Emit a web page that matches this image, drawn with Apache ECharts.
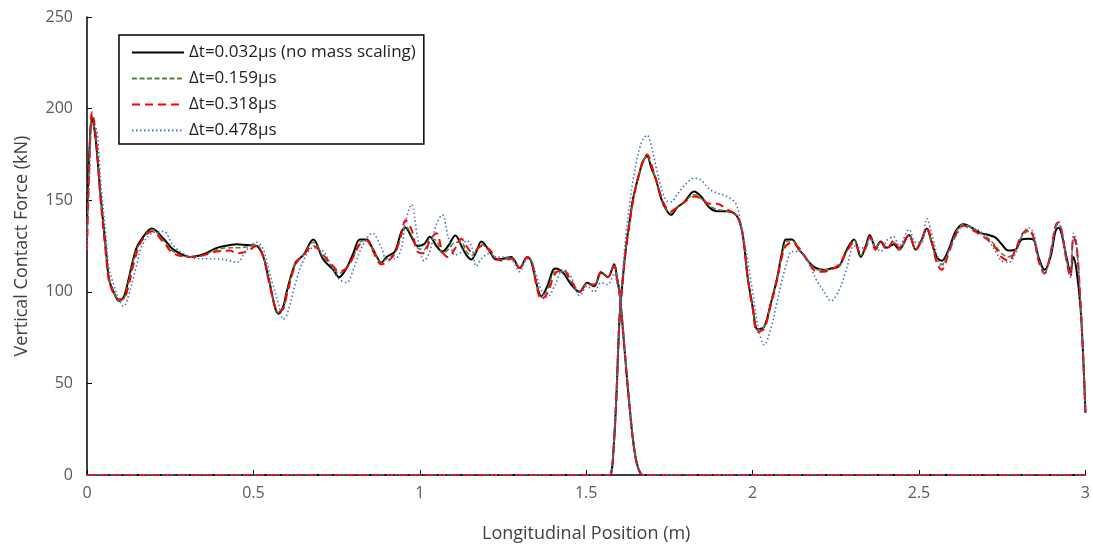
<!DOCTYPE html>
<html><head><meta charset="utf-8">
<script src="https://cdn.jsdelivr.net/npm/echarts@6/dist/echarts.min.js"></script>
<style>html,body{margin:0;padding:0;background:#fff}#c{width:1093px;height:548px}</style>
</head><body><div id="c"></div>
<script>
// ---- Data ----
const seriesNames = ['Δt=0.032μs (no mass scaling)', 'Δt=0.159μs', 'Δt=0.318μs', 'Δt=0.478μs'];
const xTicks = [0, 0.5, 1, 1.5, 2, 2.5, 3];
const yTicks = [0, 50, 100, 150, 200, 250];

// first contact (leaves at ~1.65 m)
const xA = [
 0, 0.008, 0.015, 0.025, 0.042, 0.057, 0.066, 0.08, 0.096, 0.11,
 0.12, 0.147, 0.165, 0.195, 0.23, 0.26, 0.31, 0.35, 0.39, 0.43,
 0.45, 0.48, 0.51, 0.53, 0.546, 0.576, 0.59, 0.6, 0.627, 0.65,
 0.68, 0.71, 0.74, 0.757, 0.78, 0.8, 0.82, 0.84, 0.857, 0.885,
 0.9, 0.925, 0.945, 0.957, 0.975, 0.993, 1.013, 1.03, 1.05, 1.068,
 1.085, 1.107, 1.125, 1.14, 1.155, 1.17, 1.185, 1.21, 1.23, 1.25,
 1.275, 1.3, 1.323, 1.335, 1.35, 1.365, 1.383, 1.407, 1.43, 1.455,
 1.48, 1.503, 1.524, 1.545, 1.565, 1.584, 1.593, 1.6, 1.61, 1.62,
 1.63, 1.64, 1.65, 1.66, 1.67, 3
];
const blackA = [
 140, 180, 195, 185, 150, 123, 107, 100, 95, 97,
 103, 123, 129, 134.5, 129, 123, 119, 120.5, 124, 125.5,
 126, 125.5, 125, 119, 107, 88, 92, 100, 116, 120,
 128.5, 117.6, 112, 108, 113, 121, 128.5, 128.5, 124, 116,
 119, 122, 133, 135, 130, 125, 126, 130, 125, 122,
 125, 130.7, 125, 120, 117.6, 122, 127.5, 122, 117.6, 118,
 119, 113, 119, 116.5, 105, 97.5, 103, 112.7, 110.5, 104,
 100, 105, 103, 110.5, 108, 115, 107, 100, 80, 58,
 38, 20, 8, 2, 0, 0
];
const greenA = [
 130, 178, 196, 186, 150, 122, 107, 100, 95, 96,
 102, 122, 128, 134, 128, 122, 119, 120, 123, 124,
 124, 124.5, 125.5, 119, 107, 88.5, 91, 99, 116, 120,
 127, 119, 113, 110, 113, 119, 127, 128, 124, 116,
 118, 121, 131, 136, 131, 124, 123, 129, 128, 121,
 123, 127, 127, 122, 120, 122, 126, 122, 118, 117.5,
 119, 113, 119, 117, 105, 97, 101, 111, 111, 105,
 100, 104.5, 103.5, 111, 108, 115, 107, 100, 80, 58,
 38, 20, 8, 2, 0, 0
];
const redA = [
 123, 175, 198, 188, 148, 120, 106, 99, 96, 96,
 100, 120, 128, 133, 127, 121, 119, 120, 122, 122.5,
 121, 122, 125, 119, 106, 89, 91, 98, 115, 120,
 125, 120, 114, 111, 113, 119, 126, 128, 123, 115,
 116, 121, 132, 139, 134, 122, 121, 128, 132, 122,
 119, 124, 129, 125, 122, 123, 125, 123, 118, 117,
 118, 113, 119, 117, 104, 96, 99, 110, 112, 106,
 100, 104, 104, 111, 108, 114, 107, 99, 80, 58,
 38, 20, 8, 2, 0, 0
];
const blueA = [
 123, 165, 190, 190, 158, 130, 113, 104, 96, 92,
 95, 113, 125, 132, 133, 125, 119, 118, 118, 117,
 116, 123, 127, 123, 112, 93, 85, 87, 105, 117,
 124, 122, 112, 107, 105, 112, 122, 129, 132, 124,
 118, 118, 124, 138, 147.6, 130, 117, 122, 137, 142,
 130, 120, 122, 128, 125, 114, 118, 121, 119, 119,
 118, 111, 118, 117, 109, 101, 97, 104, 112, 108,
 98, 103, 100, 105, 104, 110, 104, 99, 82, 60,
 40, 22, 10, 3, 0, 0
];

// second contact (starts at ~1.57 m)
const xB = [
 0, 1.57, 1.575, 1.58, 1.59, 1.6, 1.61, 1.62, 1.63, 1.64,
 1.65, 1.66, 1.67, 1.683, 1.695, 1.71, 1.725, 1.74, 1.755, 1.773,
 1.795, 1.824, 1.845, 1.87, 1.893, 1.923, 1.95, 1.965, 1.975, 1.985,
 2.0, 2.015, 2.035, 2.055, 2.073, 2.088, 2.1, 2.118, 2.139, 2.154,
 2.175, 2.193, 2.215, 2.235, 2.26, 2.283, 2.305, 2.325, 2.34, 2.352,
 2.37, 2.385, 2.403, 2.424, 2.44, 2.47, 2.49, 2.508, 2.523, 2.538,
 2.553, 2.568, 2.589, 2.61, 2.634, 2.658, 2.685, 2.709, 2.73, 2.748,
 2.769, 2.79, 2.808, 2.829, 2.844, 2.859, 2.877, 2.895, 2.91, 2.919,
 2.928, 2.943, 2.955, 2.964, 2.973, 2.985, 2.994, 3
];
const blackB = [
 0, 0, 1, 8, 40, 85, 107, 125, 138, 150,
 158, 165, 171, 174, 168, 161, 151, 145, 142, 146,
 149, 154.7, 152, 146, 144, 144, 142, 135.6, 124.7, 108,
 92, 79.5, 81, 94, 107, 121, 128.5, 128.5, 123, 120,
 115, 112.7, 112, 112.7, 114, 123, 128.5, 119, 125, 131,
 124, 127.5, 124, 126, 123, 131, 123, 128.5, 134.5, 127,
 119, 117, 123, 133, 137, 135, 132, 131, 129.6, 126,
 122.5, 123, 128.5, 129, 128.5, 119, 112, 119, 133, 135,
 132, 119, 111, 119, 112, 92, 61.5, 34
];
const greenB = [
 0, 0, 1, 8, 40, 85, 107, 125, 138, 149,
 158, 165, 171, 174, 169, 161, 152, 145, 143, 146,
 149, 153, 151, 147, 145, 144, 142, 136, 125, 108,
 92, 79, 81, 94, 107, 120, 127, 128, 123, 120,
 115, 112, 112, 112.5, 114, 122, 128, 120, 124, 130,
 124, 127, 124, 127, 123, 131, 123, 128, 134, 127,
 117, 115, 122, 132, 137, 135, 132, 129, 125, 121,
 119, 123, 130, 133, 130, 118, 110, 121, 135, 137,
 134, 118, 109, 129, 125, 94, 62, 34
];
const redB = [
 0, 0, 1, 8, 40, 85, 107, 124, 137, 149,
 158, 165, 171, 175, 170, 161, 152, 146, 144, 146,
 149, 152, 151, 148, 148, 145, 142, 136, 125, 108,
 91, 78, 80, 93, 106, 119, 125, 127, 124, 120,
 114, 111, 111, 112, 115, 122, 127, 121, 124, 130,
 123, 127, 123, 128, 124, 131, 123, 128, 135, 128,
 116, 112, 121, 131, 136, 134, 131, 128, 124, 119,
 117, 123, 131, 134, 130, 117, 110, 121, 136, 138,
 134, 117, 108, 130, 126, 95, 62, 34
];
const blueB = [
 0, 0, 2, 10, 42, 88, 112, 132, 147, 160,
 170, 178, 183, 185.5, 180, 168, 157, 150, 149, 153,
 158, 162, 161, 156, 154, 152, 148, 137, 128, 117,
 100, 82, 71, 80, 94, 106, 114, 122, 122, 120,
 113, 106, 100, 95, 101, 113, 125, 124, 124, 129,
 125, 122, 128, 130, 125, 134, 127, 127, 140, 132,
 121, 114, 122, 130, 136, 135, 133, 128, 122, 117,
 116, 121, 130, 135, 132, 119, 110, 120, 136, 138,
 134, 117, 108, 132, 128, 95, 62, 34
];

// ---- Chart ----
const FONT = 'Open Sans';
const styles = [
  {color: '#000000', width: 2, type: 'solid'},
  {color: '#548235', width: 1.5, type: [5, 2.5]},
  {color: '#ff0000', width: 2, type: [8, 5]},
  {color: '#4472c4', width: 1.6, type: [1.5, 2.5]}
];
const ysA = [blackA, greenA, redA, blueA];
const ysB = [blackB, greenB, redB, blueB];
function pairs(xs, ys) { return xs.map((x, i) => [x, ys[i]]); }

const series = [];
for (let k = 0; k < 4; k++) {
  for (const [xs, ys] of [[xA, ysA[k]], [xB, ysB[k]]]) {
    series.push({
      name: seriesNames[k], type: 'line', data: pairs(xs, ys),
      symbol: 'none', smooth: 0.35, animation: false,
      lineStyle: {color: styles[k].color, width: styles[k].width, type: styles[k].type},
      itemStyle: {color: styles[k].color},
      z: 2 + k
    });
  }
}

const chart = echarts.init(document.getElementById('c'), null, {renderer: 'canvas'});
chart.setOption({
  animation: false,
  backgroundColor: '#fff',
  grid: {left: 87, right: 6, top: 17, bottom: 72, containLabel: false},
  legend: {
    data: seriesNames, orient: 'vertical', left: 119, top: 35,
    borderColor: '#000', borderWidth: 1.5, borderRadius: 0,
    padding: [9, 8, 5, 12], itemGap: 9, itemWidth: 52, itemHeight: 18,
    itemStyle: {opacity: 0, borderWidth: 0},
    textStyle: {fontFamily: FONT, fontSize: 17, color: '#222'}
  },
  xAxis: {
    type: 'value', min: xTicks[0], max: xTicks[xTicks.length - 1], interval: 0.5,
    name: 'Longitudinal Position (m)', nameLocation: 'middle', nameGap: 50,
    nameTextStyle: {fontFamily: FONT, fontSize: 18, color: '#404040'},
    axisLine: {show: true, lineStyle: {color: '#000', width: 1.5}},
    axisTick: {show: true, inside: true, length: 5, lineStyle: {color: '#000', width: 1}},
    axisLabel: {fontFamily: FONT, fontSize: 16, color: '#595959', margin: 10},
    splitLine: {show: false}
  },
  yAxis: {
    type: 'value', min: yTicks[0], max: yTicks[yTicks.length - 1], interval: 50,
    name: 'Vertical Contact Force (kN)', nameLocation: 'middle', nameGap: 56,
    nameTextStyle: {fontFamily: FONT, fontSize: 18, color: '#404040'},
    axisLine: {show: true, lineStyle: {color: '#000', width: 1.5}},
    axisTick: {show: true, inside: true, length: 5, lineStyle: {color: '#000', width: 1}},
    axisLabel: {fontFamily: FONT, fontSize: 16, color: '#595959', margin: 14},
    splitLine: {show: false}
  },
  series: series
});
</script>
</body></html>
